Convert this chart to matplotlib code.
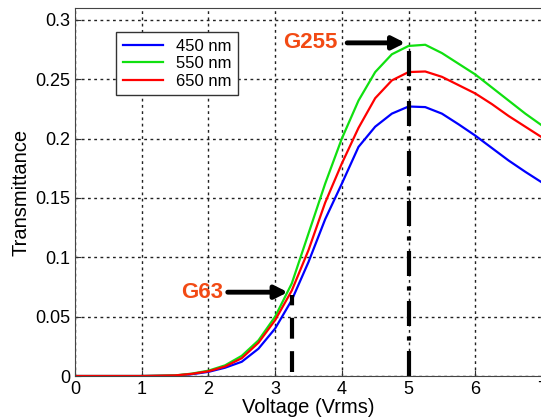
import matplotlib
matplotlib.use("Agg")
import matplotlib.pyplot as plt

plt.rcParams['font.family'] = ['Liberation Sans', 'DejaVu Sans']

voltage = [0.0, 0.5, 1.0, 1.5, 1.75, 2.0, 2.25, 2.5, 2.75, 3.0, 3.25, 3.5, 3.75,
           4.0, 4.25, 4.5, 4.75, 5.0, 5.25, 5.5, 5.75, 6.0, 6.25, 6.5, 6.75, 7.0]
t450 = [0, 0, 0, 0.0004, 0.0015, 0.0035, 0.007, 0.012, 0.023, 0.040, 0.064, 0.096, 0.132,
        0.162, 0.193, 0.210, 0.221, 0.227, 0.2265, 0.221, 0.212, 0.2025, 0.192, 0.1815, 0.172, 0.163]
t550 = [0, 0, 0, 0.0005, 0.002, 0.0045, 0.009, 0.017, 0.030, 0.050, 0.078, 0.120, 0.162,
        0.200, 0.232, 0.256, 0.271, 0.278, 0.279, 0.272, 0.263, 0.254, 0.243, 0.232, 0.221, 0.211]
t650 = [0, 0, 0, 0.0005, 0.0018, 0.004, 0.008, 0.015, 0.028, 0.047, 0.072, 0.106, 0.146,
        0.179, 0.209, 0.234, 0.249, 0.256, 0.2565, 0.252, 0.245, 0.238, 0.229, 0.219, 0.210, 0.201]

labels = ['450 nm', '550 nm', '650 nm']
colors = ['#0000ff', '#10e010', '#ff0000']

g255_v, g255_t = 5.0, 0.2806
g63_v, g63_t = 3.26, 0.0706
mark_color = '#f24a14'

fig = plt.figure(figsize=(5.41, 4.19), dpi=100)
ax = fig.add_axes([0.1386, 0.1026, 0.8632, 0.8784])

for y, lab, c in zip([t450, t550, t650], labels, colors):
    ax.plot(voltage, y, color=c, lw=1.6, label=lab)

# markers for the gray levels
ax.plot([g255_v, g255_v], [0, 0.279], color='k', lw=3, linestyle=(0, (6, 2.5, 1, 2.5)))
ax.plot([g63_v, g63_v], [0.003, 0.0685], color='k', lw=3, linestyle=(0, (5, 3)))

arrow = dict(arrowstyle='-|>,head_length=0.75,head_width=0.38', lw=3.5, color='k',
             shrinkA=0, shrinkB=0)
ax.annotate('', xy=(4.95, g255_t), xytext=(4.08, g255_t), arrowprops=arrow)
ax.annotate('', xy=(3.19, g63_t), xytext=(2.29, g63_t), arrowprops=arrow)
ax.text(3.94, g255_t, 'G255', color=mark_color, fontsize=16, fontweight='bold',
        ha='right', va='center')
ax.text(2.22, g63_t, 'G63', color=mark_color, fontsize=16, fontweight='bold',
        ha='right', va='center')

ax.set_xlim(0, 7)
ax.set_ylim(0, 0.31)
ax.set_xticks(range(8))
ax.set_yticks([0, 0.05, 0.1, 0.15, 0.2, 0.25, 0.3])
ax.set_yticklabels(['0', '0.05', '0.1', '0.15', '0.2', '0.25', '0.3'])
ax.tick_params(direction='in', labelsize=13, length=4, color='#333333')
ax.grid(True, color='#222222', linestyle=(0, (2, 2.5)), lw=1)
for s in ax.spines.values():
    s.set_color('#444444')
ax.set_xlabel('Voltage (Vrms)', fontsize=14.5, labelpad=0)
ax.set_ylabel('Transmittance', fontsize=14.5, labelpad=3)

leg = ax.legend(loc='upper left', bbox_to_anchor=(0.088, 0.935), borderaxespad=0,
                fontsize=12, handlelength=2.4, labelspacing=0.15, borderpad=0.4,
                fancybox=False, framealpha=1, edgecolor='#333333')
leg.get_frame().set_linewidth(1)

fig.savefig('out.png', dpi=100)
